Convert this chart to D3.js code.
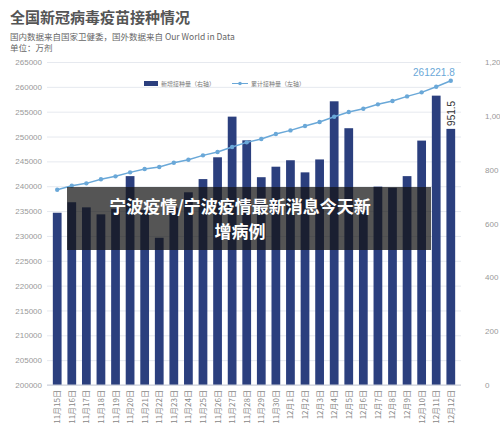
<!DOCTYPE html><html><head><meta charset="utf-8"><script src="https://cdn.jsdelivr.net/npm/d3@7"></script>
<style>body{margin:0;background:#fff}svg{font-family:"Noto Sans CJK SC",sans-serif}</style></head><body><svg width="500" height="438"></svg>
<script>
const dates=["11月15日","11月16日","11月17日","11月18日","11月19日","11月20日","11月21日","11月22日","11月23日","11月24日","11月25日","11月26日","11月27日","11月28日","11月29日","11月30日","12月1日","12月2日","12月3日","12月4日","12月5日","12月6日","12月7日","12月8日","12月9日","12月10日","12月11日","12月12日"];
const daily=[640,679,660,634,655,776,650,547,659,716,765,846,997,909,772,811,835,790,838,1054,954,650,737,733,776,908,1075,951.5];
const cumulative=[239300,240100,240580,241390,241990,242790,243460,243860,244730,245330,246210,246880,247890,248830,249500,250500,251240,252110,252920,253990,254930,255600,256480,257140,258080,258890,260020,261221.8];
const leftTicks=d3.range(200000,265001,5000);
const rightTicks=[0,200,400,600,800,1000,1200];
const svg=d3.select("svg");
const plotTop=62,bot=385,L=47,R=461;
const x=d3.scaleBand().domain(dates).range([L,R]).padding(0.4);
const yl=d3.scaleLinear().domain([200000,265000]).range([bot,plotTop]);
const yr=d3.scaleLinear().domain([0,1200]).range([bot,plotTop]);
svg.append("text").attr("x",10).attr("y",23).attr("font-size",15).attr("font-weight","bold").attr("fill","#555").text("全国新冠病毒疫苗接种情况");
svg.append("text").attr("x",10).attr("y",40).attr("font-size",8.5).attr("fill","#666").text("国内数据来自国家卫健委，国外数据来自 Our World in Data");
svg.append("text").attr("x",10).attr("y",51).attr("font-size",8.5).attr("fill","#666").text("单位：万剂");
const gl=svg.append("g").attr("transform",`translate(${L},0)`).call(d3.axisLeft(yl).tickValues(leftTicks).tickSize(-(R-L)).tickFormat(d3.format("d")));
gl.select(".domain").remove();
gl.selectAll("line").attr("stroke","#e6e9ef");
gl.selectAll("text").attr("fill","#999").attr("font-size",8).attr("x",-5).attr("font-family","Liberation Sans");
const gr=svg.append("g").attr("transform",`translate(${R+10},0)`).call(d3.axisRight(yr).tickValues(rightTicks).tickSize(0));
gr.select(".domain").remove();
gr.selectAll("text").attr("fill","#999").attr("font-size",8).attr("x",14).attr("font-family","Liberation Sans");
svg.selectAll(".bar").data(daily).join("rect").attr("x",(d,i)=>x(dates[i])).attr("width",x.bandwidth()).attr("y",d=>yr(d)).attr("height",d=>bot-yr(d)).attr("fill","#2b3f7e");
svg.append("line").attr("x1",L).attr("x2",R).attr("y1",bot).attr("y2",bot).attr("stroke","#c8ccd6");
const line=d3.line().x((d,i)=>x(dates[i])+x.bandwidth()/2).y(d=>yl(d));
svg.append("path").datum(cumulative).attr("d",line).attr("fill","none").attr("stroke","#6aa8d8").attr("stroke-width",1.5);
svg.selectAll(".pt").data(cumulative).join("circle").attr("cx",(d,i)=>x(dates[i])+x.bandwidth()/2).attr("cy",d=>yl(d)).attr("r",2.2).attr("fill","#6aa8d8");
const n=dates.length-1;
svg.append("text").attr("x",x(dates[n])+x.bandwidth()/2+4).attr("y",yl(cumulative[n])-5).attr("text-anchor","end").attr("font-size",10).attr("fill","#6aa8d8").attr("font-family","Liberation Sans").text("261221.8");
svg.append("text").attr("transform",`translate(${x(dates[n])+x.bandwidth()/2+4},${yr(daily[n])-3}) rotate(-90)`).attr("font-size",10).attr("fill","#333").attr("font-family","Liberation Sans").text("951.5");
svg.selectAll(".xl").data(dates).join("text").attr("transform",d=>`translate(${x(d)+x.bandwidth()/2+3},${bot+5}) rotate(-90)`).attr("text-anchor","end").attr("font-size",8).attr("fill","#888").text(d=>d);
svg.append("rect").attr("x",144).attr("y",81).attr("width",14).attr("height",5).attr("fill","#2b3f7e");
svg.append("text").attr("x",161).attr("y",86).attr("font-size",6).attr("fill","#777").text("新增接种量（右轴）");
svg.append("line").attr("x1",232).attr("x2",248).attr("y1",83.5).attr("y2",83.5).attr("stroke","#6aa8d8");
svg.append("circle").attr("cx",240).attr("cy",83.5).attr("r",1.8).attr("fill","#6aa8d8");
svg.append("text").attr("x",251).attr("y",86).attr("font-size",6).attr("fill","#777").text("累计接种量（左轴）");
svg.append("rect").attr("x",67).attr("y",187).attr("width",364).attr("height",63).attr("fill","rgba(20,20,20,0.72)");
svg.append("text").attr("x",240).attr("y",213).attr("text-anchor","middle").attr("font-size",17).attr("font-weight","bold").attr("fill","#fff").text("宁波疫情/宁波疫情最新消息今天新");
svg.append("text").attr("x",240).attr("y",238).attr("text-anchor","middle").attr("font-size",17).attr("font-weight","bold").attr("fill","#fff").text("增病例");
</script></body></html>
